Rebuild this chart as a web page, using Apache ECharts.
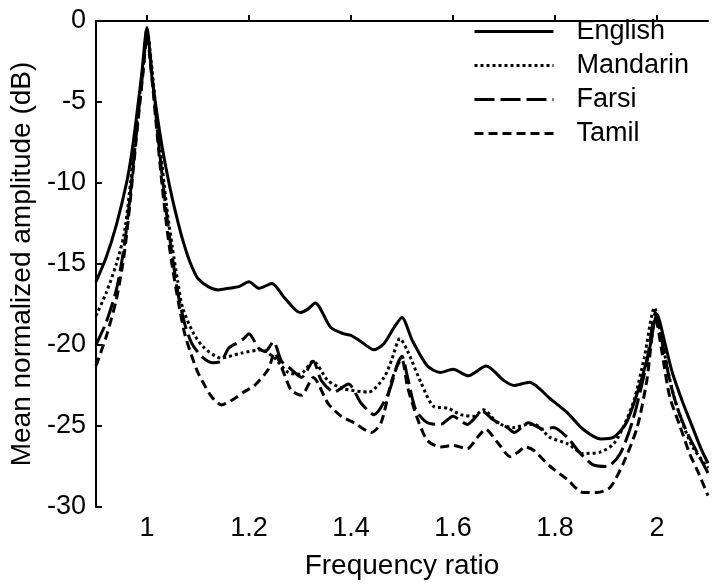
<!DOCTYPE html>
<html>
<head>
  <meta charset="utf-8">
  <script src="https://cdn.jsdelivr.net/npm/echarts@6/dist/echarts.min.js"></script>
  <title>Mean normalized amplitude</title>
  <style>
    html, body { margin: 0; padding: 0; background: #fff; }
  </style>
</head>
<body>
<div id="chart" style="width:720px;height:585px;"></div>
<script type="text/javascript">
  // 读图得到的数据 (frequency ratio, dB)
  var langNames = ['English', 'Mandarin', 'Farsi', 'Tamil'];
  var xTicks = [1, 1.2, 1.4, 1.6, 1.8, 2];

  var englishX = [0.9, 0.92, 0.94, 0.96, 0.97, 0.98, 0.99, 1.0, 1.01, 1.02, 1.03, 1.04, 1.05, 1.06, 1.07, 1.08, 1.09, 1.10, 1.12, 1.14, 1.16, 1.18, 1.2, 1.22, 1.245, 1.27, 1.30, 1.315, 1.33, 1.36, 1.385, 1.40, 1.42, 1.445, 1.465, 1.485, 1.50, 1.52, 1.55, 1.575, 1.60, 1.63, 1.665, 1.70, 1.72, 1.75, 1.79, 1.825, 1.855, 1.89, 1.915, 1.94, 1.965, 1.985, 2.0, 2.015, 2.03, 2.05, 2.07, 2.085, 2.10];
  var englishY = [-16.1, -14.6, -12.6, -10.0, -8.2, -5.8, -3.2, -0.4, -3.5, -5.8, -7.8, -9.5, -11.0, -12.3, -13.5, -14.5, -15.3, -15.9, -16.4, -16.6, -16.5, -16.4, -16.1, -16.5, -16.2, -17.1, -18.0, -17.8, -17.4, -18.9, -19.3, -19.4, -19.8, -20.3, -19.9, -18.9, -18.3, -19.7, -21.3, -21.7, -21.5, -21.9, -21.3, -22.2, -22.5, -22.3, -23.3, -24.2, -25.2, -25.8, -25.7, -24.8, -22.6, -20.3, -18.1, -19.8, -21.7, -23.5, -25.1, -26.3, -27.3];

  var mandarinX = [0.9, 0.92, 0.94, 0.955, 0.965, 0.975, 0.985, 0.993, 1.0, 1.01, 1.02, 1.03, 1.04, 1.05, 1.06, 1.07, 1.09, 1.11, 1.145, 1.185, 1.225, 1.25, 1.277, 1.30, 1.326, 1.355, 1.385, 1.435, 1.465, 1.48, 1.496, 1.51, 1.537, 1.5625, 1.59, 1.615, 1.64, 1.66, 1.687, 1.72, 1.745, 1.76, 1.79, 1.825, 1.855, 1.89, 1.915, 1.935, 1.955, 1.975, 1.995, 2.01, 2.03, 2.05, 2.07, 2.10];
  var mandarinY = [-18.2, -16.8, -15.0, -13.2, -10.8, -7.8, -4.8, -2.6, -0.5, -3.0, -6.2, -9.0, -11.8, -14.0, -16.0, -17.7, -19.2, -20.1, -20.8, -20.5, -20.3, -20.8, -21.7, -21.8, -21.0, -22.2, -22.7, -22.9, -22.0, -20.9, -19.6, -20.3, -22.3, -23.8, -23.9, -24.3, -24.4, -24.0, -24.8, -25.1, -24.9, -24.9, -25.7, -26.1, -26.7, -26.6, -26.1, -25.0, -23.4, -20.8, -17.7, -19.8, -22.8, -24.8, -26.3, -27.6];

  var farsiX = [0.9, 0.92, 0.94, 0.955, 0.965, 0.975, 0.985, 0.993, 1.0, 1.01, 1.02, 1.03, 1.04, 1.05, 1.062, 1.075, 1.088, 1.107, 1.13, 1.146, 1.16, 1.175, 1.19, 1.2, 1.219, 1.232, 1.248, 1.264, 1.283, 1.303, 1.326, 1.342, 1.367, 1.395, 1.42, 1.445, 1.473, 1.492, 1.50, 1.511, 1.527, 1.55, 1.576, 1.60, 1.628, 1.658, 1.678, 1.707, 1.72, 1.748, 1.777, 1.797, 1.824, 1.85, 1.875, 1.902, 1.928, 1.953, 1.98, 1.997, 2.01, 2.025, 2.04, 2.059, 2.08, 2.10];
  var farsiY = [-20.0, -18.6, -16.6, -14.0, -11.4, -8.3, -5.2, -2.8, -0.7, -3.3, -6.6, -9.6, -12.3, -14.6, -17.0, -18.8, -19.9, -20.7, -21.1, -21.0, -20.2, -19.9, -19.6, -19.3, -20.2, -20.4, -19.8, -21.0, -21.5, -22.0, -21.0, -22.2, -22.9, -22.4, -23.6, -24.3, -23.0, -21.1, -20.7, -22.0, -24.0, -24.8, -24.9, -24.4, -24.9, -24.1, -24.6, -25.1, -25.4, -24.8, -25.2, -25.1, -25.7, -26.7, -27.4, -27.5, -26.7, -24.6, -21.1, -18.0, -19.8, -22.2, -23.9, -25.4, -26.7, -27.9];

  var tamilX = [0.9, 0.92, 0.94, 0.955, 0.965, 0.975, 0.985, 0.993, 1.0, 1.01, 1.02, 1.03, 1.04, 1.05, 1.062, 1.074, 1.087, 1.10, 1.115, 1.127, 1.146, 1.172, 1.19, 1.211, 1.238, 1.25, 1.268, 1.283, 1.303, 1.326, 1.355, 1.381, 1.406, 1.44, 1.459, 1.479, 1.492, 1.50, 1.511, 1.531, 1.55, 1.576, 1.60, 1.628, 1.648, 1.664, 1.687, 1.713, 1.728, 1.742, 1.758, 1.791, 1.824, 1.855, 1.883, 1.908, 1.934, 1.961, 1.98, 1.997, 2.01, 2.025, 2.045, 2.064, 2.08, 2.10];
  var tamilY = [-21.3, -19.5, -17.2, -14.5, -11.8, -8.6, -5.4, -3.0, -0.9, -3.6, -7.0, -10.2, -13.0, -15.2, -17.4, -19.3, -20.6, -21.7, -22.6, -23.2, -23.7, -23.3, -22.9, -22.5, -21.5, -20.5, -21.7, -22.8, -23.1, -22.0, -23.6, -24.4, -24.8, -25.4, -24.8, -22.3, -21.2, -20.9, -22.6, -24.6, -25.9, -26.3, -26.2, -26.4, -25.7, -25.2, -26.0, -26.9, -26.6, -26.3, -26.5, -27.5, -28.3, -29.1, -29.1, -28.8, -27.3, -25.1, -22.2, -18.3, -20.5, -23.2, -25.0, -26.7, -27.8, -29.3];

  function zip(xs, ys) {
    return xs.map(function (x, i) { return [x, ys[i]]; });
  }

  var fontFamily = '"Liberation Sans", Arial, sans-serif';
  var dashTypes = ['solid', [3, 3], [20, 6], [9, 5]];
  var lineData = [zip(englishX, englishY), zip(mandarinX, mandarinY), zip(farsiX, farsiY), zip(tamilX, tamilY)];

  var chart = echarts.init(document.getElementById('chart'));

  var option = {
    backgroundColor: '#ffffff',
    animation: false,
    textStyle: { fontFamily: fontFamily },
    grid: { left: 95, top: 21, right: 12, bottom: 78 },
    legend: {
      orient: 'vertical',
      left: 468,
      top: 13,
      itemWidth: 79,
      itemHeight: 26,
      itemGap: 7,
      align: 'left',
      itemStyle: { opacity: 0 },
      lineStyle: { width: 3, color: '#000' },
      textStyle: { fontSize: 27, color: '#000', fontFamily: fontFamily, padding: [0, 0, 0, 18] },
      data: langNames
    },
    xAxis: {
      type: 'value',
      min: 0.9,
      max: 2.1,
      name: 'Frequency ratio',
      nameLocation: 'middle',
      nameGap: 45,
      nameTextStyle: { fontSize: 28, color: '#000' },
      axisLine: { lineStyle: { color: '#000', width: 2 } },
      axisTick: { inside: true, length: 6, lineStyle: { color: '#000', width: 2 }, customValues: xTicks },
      axisLabel: { fontSize: 27, color: '#000', margin: 8, customValues: xTicks },
      splitLine: { show: false }
    },
    yAxis: {
      type: 'value',
      min: -30,
      max: 0,
      interval: 5,
      name: 'Mean normalized amplitude (dB)',
      nameLocation: 'middle',
      nameGap: 55,
      nameTextStyle: { fontSize: 28, color: '#000' },
      axisLine: { show: true, lineStyle: { color: '#000', width: 2 } },
      axisTick: { show: true, inside: true, length: 6, lineStyle: { color: '#000', width: 2 } },
      axisLabel: { fontSize: 27, color: '#000', margin: 10 },
      splitLine: { show: false }
    },
    series: langNames.map(function (name, i) {
      return {
        name: name,
        type: 'line',
        data: lineData[i],
        symbol: 'none',
        smooth: 0.25,
        color: '#000',
        lineStyle: { color: '#000', width: 3, type: dashTypes[i] }
      };
    })
  };

  chart.setOption(option);

  window.addEventListener('resize', function () {
    chart.resize();
  });
</script>
</body>
</html>
